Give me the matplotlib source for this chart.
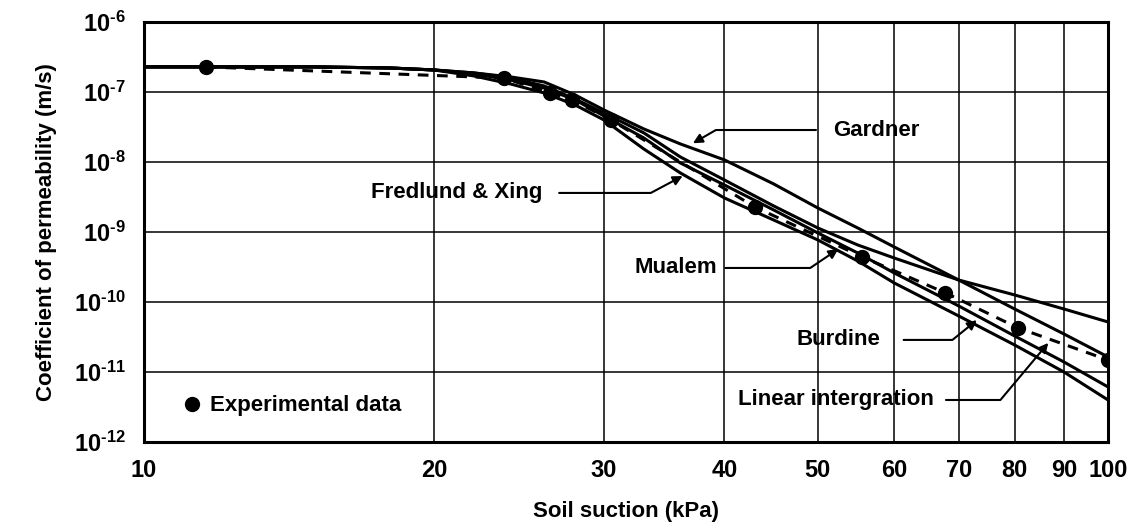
import math
import matplotlib
matplotlib.use('Agg')
import matplotlib.pyplot as plt
from matplotlib.ticker import NullLocator, LogLocator, FuncFormatter

plt.rcParams['font.family'] = ['Liberation Sans', 'DejaVu Sans']
plt.rcParams['font.weight'] = 'bold'
plt.rcParams['axes.labelweight'] = 'bold'
plt.rcParams['axes.unicode_minus'] = False
plt.rcParams['mathtext.fontset'] = 'custom'
plt.rcParams['mathtext.rm'] = 'Liberation Sans:bold'
plt.rcParams['mathtext.it'] = 'Liberation Sans:bold'
plt.rcParams['mathtext.bf'] = 'Liberation Sans:bold'

# experimental data (soil suction kPa, permeability m/s)
suction_exp = [11.6, 23.6, 26.4, 27.8, 30.5, 43.0, 55.6, 67.8, 80.7, 100]
k_exp = [2.28e-7, 1.58e-7, 9.7e-8, 7.7e-8, 3.98e-8, 2.28e-9, 4.4e-10,
         1.35e-10, 4.25e-11, 1.48e-11]

suction_fit = [10, 12, 15, 18, 20, 22, 24, 26, 28, 30, 33, 36, 40, 45, 50,
               55, 60, 70, 80, 90, 100]
k_gardner = [2.28e-7, 2.28e-7, 2.28e-7, 2.20e-7, 2.06e-7, 1.87e-7, 1.64e-7,
             1.39e-7, 9.06e-8, 5.53e-8, 2.96e-8, 1.81e-8, 1.07e-8, 4.85e-9,
             2.20e-9, 1.14e-9, 6.11e-10, 2.06e-10, 7.94e-11, 3.49e-11, 1.64e-11]
k_mualem = [2.28e-7, 2.28e-7, 2.28e-7, 2.20e-7, 2.06e-7, 1.87e-7, 1.58e-7,
            1.22e-7, 7.94e-8, 5.01e-8, 2.60e-8, 1.18e-8, 5.53e-9, 2.35e-9,
            1.14e-9, 6.52e-10, 4.25e-10, 2.06e-10, 1.26e-10, 7.94e-11, 5.18e-11]
k_burdine = [2.28e-7, 2.28e-7, 2.28e-7, 2.20e-7, 2.06e-7, 1.81e-7, 1.48e-7,
             1.14e-7, 7.69e-8, 4.54e-8, 2.20e-8, 9.68e-9, 4.69e-9, 2.06e-9,
             9.68e-10, 5.01e-10, 2.60e-10, 8.77e-11, 3.27e-11, 1.39e-11, 6.11e-12]
k_fredlund = [2.28e-7, 2.28e-7, 2.28e-7, 2.20e-7, 2.06e-7, 1.69e-7, 1.30e-7,
              9.68e-8, 6.52e-8, 3.98e-8, 1.53e-8, 6.97e-9, 3.06e-9, 1.48e-9,
              7.69e-10, 3.85e-10, 1.87e-10, 6.31e-11, 2.43e-11, 1.00e-11, 3.98e-12]

xticks = [10, 20, 30, 40, 50, 60, 70, 80, 90, 100]


def pow_label(v, pos):
    return r'10$^{\text{%d}}$' % round(math.log10(v))


fig = plt.figure(figsize=(11.28, 5.29), dpi=100)
ax = fig.add_axes([0.1277, 0.1645, 0.8546, 0.794])

for k in (k_gardner, k_mualem, k_burdine, k_fredlund):
    ax.plot(suction_fit, k, color='black', lw=2.2, solid_capstyle='butt')
ax.plot(suction_exp, k_exp, color='black', lw=2.2, ls=(0, (3.5, 2.8)))
ax.plot(suction_exp, k_exp, 'o', color='black', ms=10, ls='none',
        label='Experimental data')

ax.set_xscale('log')
ax.set_yscale('log')
ax.set_xlim(10, 100)
ax.set_ylim(1e-12, 1e-6)
ax.set_xticks(xticks)
ax.set_xticklabels([str(t) for t in xticks])
ax.xaxis.set_minor_locator(NullLocator())
ax.yaxis.set_major_locator(LogLocator(base=10, numticks=10))
ax.yaxis.set_major_formatter(FuncFormatter(pow_label))
ax.yaxis.set_minor_locator(NullLocator())
ax.tick_params(length=0, labelsize=17, pad=13)
ax.tick_params(axis='x', pad=12)
ax.grid(True, color='black', lw=1.1)
for sp in ax.spines.values():
    sp.set_linewidth(2.2)

ax.set_xlabel('Soil suction (kPa)', fontsize=16, labelpad=14)
ax.set_ylabel('Coefficient of permeability (m/s)', fontsize=16, labelpad=12)

# labels with leader arrows
notes = [
    ('Gardner', (37.1, 1.85e-8), (51.8, 2.86e-8), 'left', 30, 10),
    ('Fredlund & Xing', (36.2, 6.3e-9), (25.9, 3.61e-9), 'right', 28, 10),
    ('Mualem', (52.5, 5.7e-10), (39.3, 3.06e-10), 'right', 34, 4),
    ('Burdine', (73.1, 5.5e-11), (58.0, 2.87e-11), 'right', 39, 15),
    ('Linear intergration', (86.7, 2.6e-11), (65.9, 3.98e-12), 'right', 50, 7),
]
for txt, tip, pos, ha, angb, gap in notes:
    ax.annotate(txt, xy=tip, xytext=pos, ha=ha, va='center', fontsize=16,
                arrowprops=dict(arrowstyle='-|>', color='black', lw=1.5,
                                mutation_scale=14, shrinkA=gap, shrinkB=0,
                                relpos=(0 if ha == 'left' else 1, 0.5),
                                connectionstyle=f'angle,angleA=0,angleB={angb},rad=0'))

ax.legend(loc='center left', bbox_to_anchor=(0.0384, 0.0857), frameon=False,
          fontsize=16, handlelength=1.0, handletextpad=0.3, borderpad=0,
          borderaxespad=0, numpoints=1)

fig.savefig('out.png', dpi=100)
